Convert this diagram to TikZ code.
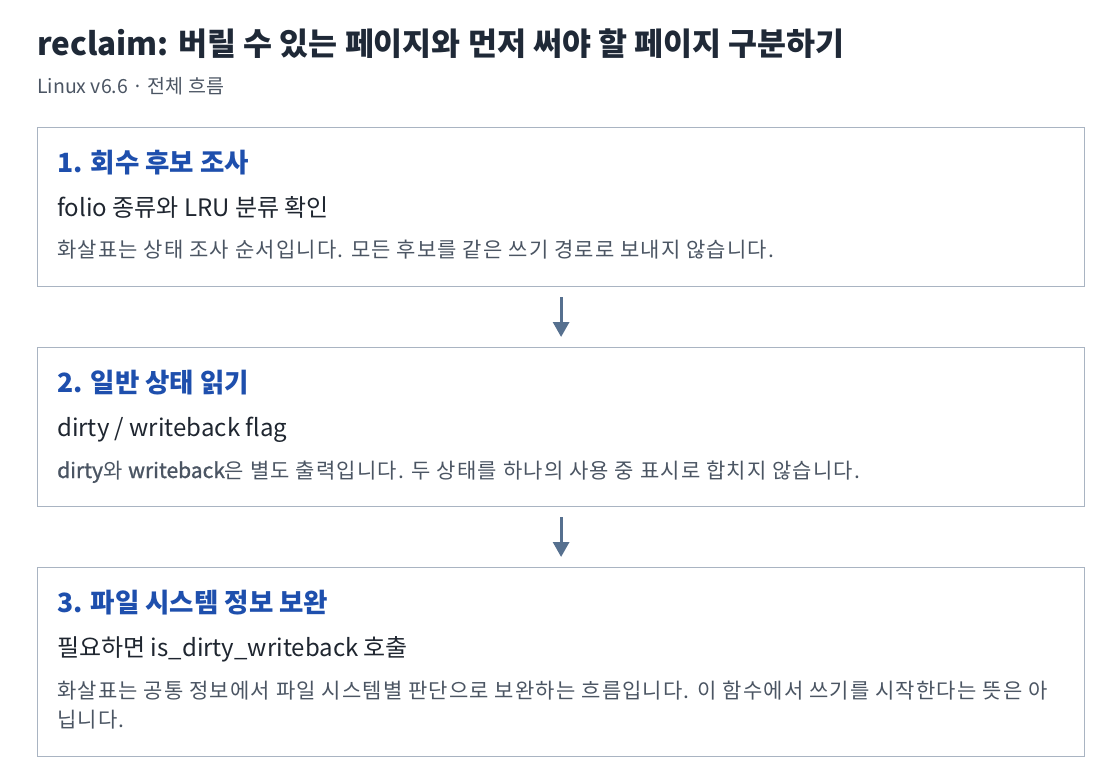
\documentclass[tikz,border=0pt]{standalone}
\usepackage{fontspec}
\setmainfont{Noto Sans CJK KR}
\usetikzlibrary{arrows.meta}

\definecolor{titleink}{HTML}{1F2937}
\definecolor{mutedink}{HTML}{4B5563}
\definecolor{stepblue}{HTML}{1E4FAD}
\definecolor{bodyink}{HTML}{1F2630}
\definecolor{boxline}{HTML}{A9B4C2}
\definecolor{flowink}{HTML}{56708F}

% flag names set a little heavier, without the tracking
\newcommand{\flagword}[1]{{\addfontfeature{LetterSpace=0,FakeBold=1.2}#1}}

\tikzset{
  stepbox/.style={draw=boxline, line width=1.2pt, fill=white, anchor=north west,
    minimum width=1047pt, minimum height=159pt, inner sep=0pt},
  steptitle/.style={anchor=base west, inner sep=0pt, text=stepblue,
    font=\fontsize{26.5}{30}\selectfont\bfseries},
  stepmain/.style={anchor=base west, inner sep=0pt, text=bodyink,
    font=\fontsize{24}{29}\selectfont},
  stepnote/.style={anchor=base west, inner sep=0pt, text=mutedink, align=left,
    font=\fontsize{21}{29}\selectfont\addfontfeature{LetterSpace=5.5}},
  flow/.style={draw=flowink, line width=3pt, -{Triangle[width=16pt,length=15pt]},
    shorten <=10pt, shorten >=10pt}
}

\begin{document}
\begin{tikzpicture}[x=1pt, y=-1pt]
  \useasboundingbox (0,0) rectangle (1120,784);

  % heading
  \node[anchor=base west, inner sep=0pt, text=titleink,
    font=\fontsize{31.5}{36}\selectfont\bfseries] (title) at (37,56)
    {reclaim: 버릴 수 있는 페이지와 먼저 써야 할 페이지 구분하기};
  \node[anchor=base west, inner sep=0pt, text=mutedink,
    font=\fontsize{19.5}{24}\selectfont] (sub) at (37,94) {Linux v6.6 · 전체 흐름};

  % the three steps
  \node[stepbox] (scan) at (37,127) {};
  \node[stepbox] (state) at (37,347) {};
  \node[stepbox, minimum height=189pt] (fs) at (37,567) {};

  \node[steptitle] (scant) at (57,172) {1. 회수 후보 조사};
  \node[stepmain] (scanm) at (57,216) {folio 종류와 LRU 분류 확인};
  \node[stepnote] (scann) at (57,257)
    {화살표는 상태 조사 순서입니다. 모든 후보를 같은 쓰기 경로로 보내지 않습니다.};

  \node[steptitle] (statet) at (57,392) {2. 일반 상태 읽기};
  \node[stepmain] (statem) at (57,436) {dirty / writeback flag};
  \node[stepnote] (staten) at (57,478)
    {\flagword{dirty}와 \flagword{writeback}은 별도 출력입니다. 두 상태를 하나의 사용 중 표시로 합치지 않습니다.};

  \node[steptitle] (fst) at (57,612) {3. 파일 시스템 정보 보완};
  \node[stepmain] (fsm) at (57,656) {필요하면 is\_dirty\_writeback 호출};
  % base of a two-line node sits on its last line
  \node[stepnote] (fsn) at (57,727)
    {화살표는 공통 정보에서 파일 시스템별 판단으로 보완하는 흐름입니다. 이 함수에서 쓰기를 시작한다는 뜻은 아\\닙니다.};

  % arrows between steps
  \draw[flow] (scan.south) -- (state.north);
  \draw[flow] (state.south) -- (fs.north);
\end{tikzpicture}
\end{document}
